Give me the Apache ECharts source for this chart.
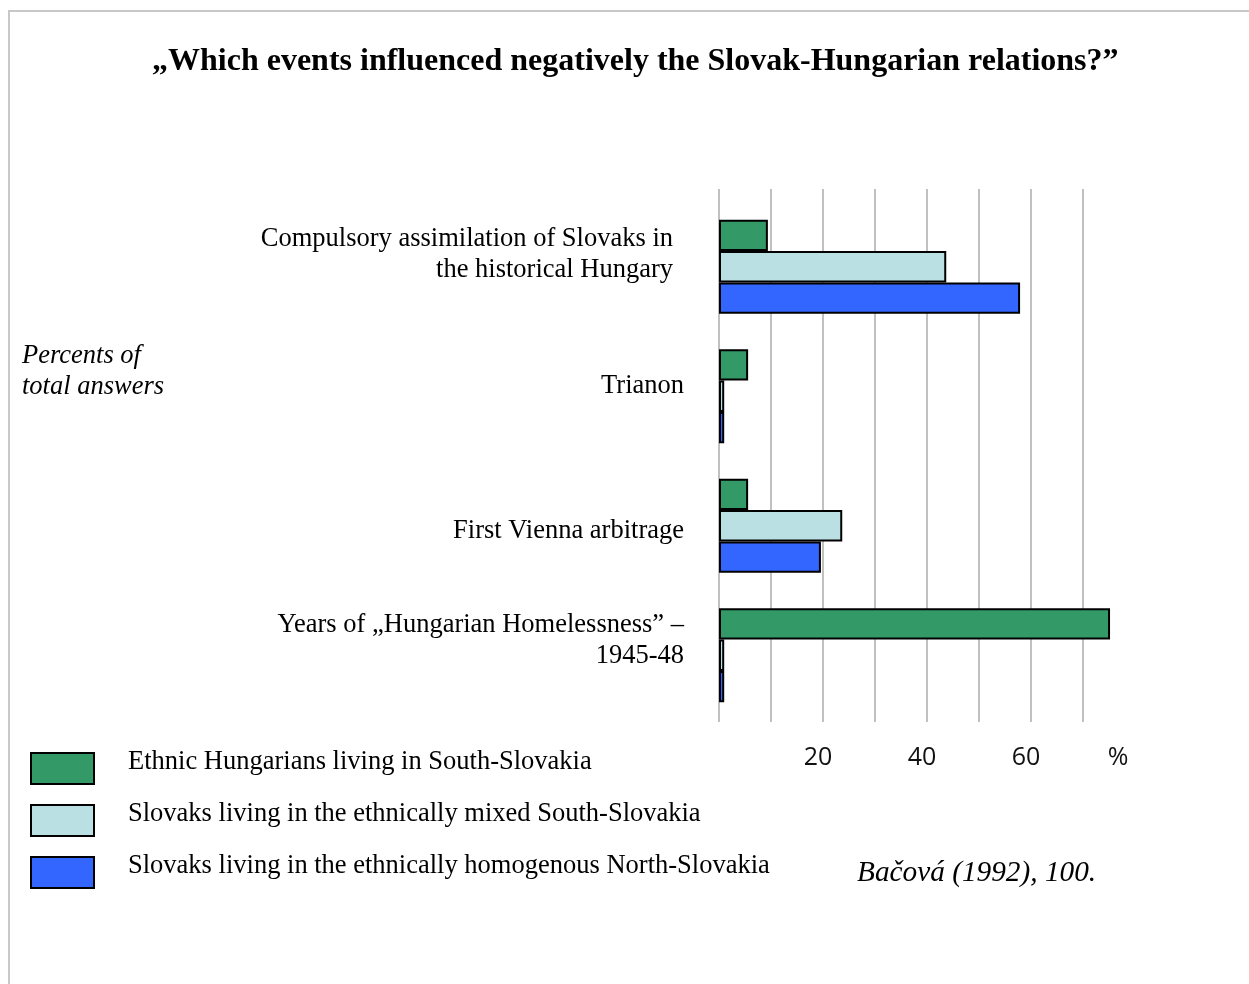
<!DOCTYPE html>
<html>
<head>
<meta charset="utf-8">
<script src="https://cdn.jsdelivr.net/npm/echarts@6/dist/echarts.min.js"></script>
<style>html,body{margin:0;padding:0;background:#fff;}#main{width:1249px;height:984px;}</style>
</head>
<body>
<div id="main"></div>
<script>
var titleText = '\u201EWhich events influenced negatively the Slovak-Hungarian relations?\u201D';
var categories = [
  'Compulsory assimilation of Slovaks in\nthe historical Hungary',
  'Trianon',
  'First Vienna arbitrage',
  'Years of \u201EHungarian Homelessness\u201D \u2013\n1945-48'
];
var seriesNames = [
  'Ethnic Hungarians living in South-Slovakia',
  'Slovaks living in the ethnically mixed South-Slovakia',
  'Slovaks living in the ethnically homogenous North-Slovakia'
];
var hungariansSouth = [9.4, 5.6, 5.6, 75.2];
var slovaksMixed = [43.7, 1, 23.7, 1];
var slovaksNorth = [57.9, 1, 19.6, 1];
var tickLabels = {20: '20', 40: '40', 60: '60', 80: '%'};
var sideNote = 'Percents of\ntotal answers';
var sourceText = 'Ba\u010Dov\u00E1 (1992), 100.';

var colors = ['#339966', '#BBE0E3', '#3366FF'];
var serif = '"Liberation Serif", "Times New Roman", serif';
var sans = '"Open Sans", "DejaVu Sans", sans-serif';

// label nudges (layout only)
var labelShift = [
  {pre: 0, post: 25, right: 11},
  {pre: 0, post: 20, right: 0},
  {pre: 10, post: 0, right: 0},
  {pre: 0, post: 29, right: 0}
];

var rich = {
  t0: {fontSize: 26.5, fontFamily: serif, color: '#000', lineHeight: 31, padding: [0, 0, 0, 0], align: 'right'},
  t1: {fontSize: 26.5, fontFamily: serif, color: '#000', lineHeight: 31, padding: [0, 11, 0, 0], align: 'right'}
};
[10, 20, 25, 29].forEach(function (h) { rich['g' + h] = {fontSize: 1, height: h, lineHeight: h}; });

var chart = echarts.init(document.getElementById('main'), null, {renderer: 'canvas'});
var series = [hungariansSouth, slovaksMixed, slovaksNorth].map(function (d, i) {
  return {
    name: seriesNames[i], type: 'bar', data: d, xAxisIndex: 0, yAxisIndex: 0,
    barWidth: 31.3, barGap: '0%',
    itemStyle: {color: colors[i], borderColor: '#000', borderWidth: 2},
    silent: true
  };
});

chart.setOption({
  animation: false,
  backgroundColor: '#fff',
  title: [{
    text: titleText, left: 147, top: 41,
    textStyle: {fontFamily: serif, fontWeight: 'bold', fontSize: 32, color: '#000'}
  }],
  legend: {
    orient: 'vertical', left: 25, top: 744, itemWidth: 63, itemHeight: 31, itemGap: 13,
    icon: 'rect', selectedMode: false,
    textStyle: {fontFamily: serif, fontSize: 26.5, color: '#000', lineHeight: 31, padding: [0, 0, 0, 29],
      rich: {u: {fontFamily: serif, fontSize: 26.5, color: '#000', lineHeight: 31, padding: [0, 0, 12, 0]}}},
    formatter: function (n) { return '{u|' + n + '}'; },
    data: seriesNames
  },
  grid: [
    {left: 719, right: 114, top: 202, height: 518},
    {left: 719, right: 114, top: 189, height: 533}
  ],
  xAxis: [
    {gridIndex: 0, type: 'value', min: 0, max: 80, interval: 10, show: false},
    {gridIndex: 1, type: 'value', min: 0, max: 80, interval: 10,
     axisLine: {show: false}, axisTick: {show: false},
     splitLine: {show: true, showMinLine: true, showMaxLine: false, lineStyle: {color: '#C0C0C0', width: 2}},
     axisLabel: {
       margin: 23, fontSize: 25, color: '#111', fontFamily: sans,
       padding: [0, 10, 0, 0],
       rich: {p: {fontSize: 25, color: '#111', fontFamily: sans, padding: [0, 24, 0, 0]}},
       formatter: function (v) {
         var t = tickLabels[v] || '';
         return v === 80 ? '{p|' + t + '}' : t;
       }
     }}
  ],
  yAxis: [
    {gridIndex: 0, type: 'category', inverse: true, data: categories,
     axisLine: {show: false}, axisTick: {show: false}, splitLine: {show: false},
     axisLabel: {
       margin: 35, rich: rich,
       formatter: function (v, idx) {
         var s = labelShift[idx];
         var key = s.right ? 't1' : 't0';
         var lines = v.split('\n').map(function (l) { return '{' + key + '|' + l + '}'; });
         if (s.pre) lines.unshift('{g' + s.pre + '| }');
         if (s.post) lines.push('{g' + s.post + '| }');
         return lines.join('\n');
       }
     }},
    {gridIndex: 1, type: 'category', data: categories, show: false}
  ],
  graphic: [
    {type: 'polyline', shape: {points: [[9, 984], [9, 11], [1249, 11]]}, style: {stroke: '#C8C8C8', lineWidth: 2, fill: null}, silent: true},
    {type: 'text', left: 22, top: 341, style: {text: sideNote, font: 'italic 26.5px ' + serif, fill: '#000', lineHeight: 31}},
    {type: 'text', left: 857, top: 859, style: {text: sourceText, font: 'italic 29.3px ' + serif, fill: '#000'}}
  ],
  series: series
});
</script>
</body>
</html>
